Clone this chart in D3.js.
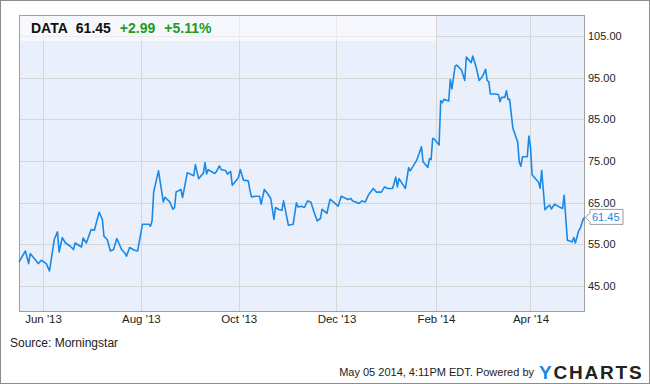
<!DOCTYPE html>
<html><head><meta charset="utf-8">
<script src="https://cdn.jsdelivr.net/npm/d3@7"></script>
<style>
html,body{margin:0;padding:0;background:#fff;}
svg{display:block;font-family:"Liberation Sans",Arial,sans-serif;}
</style></head>
<body>
<svg id="chart" width="650" height="384"></svg>
<script>
const dates = ["2013-05-17","2013-05-21","2013-05-23","2013-05-24","2013-05-26","2013-05-29","2013-05-31","2013-06-03","2013-06-05","2013-06-08",
"2013-06-10","2013-06-11","2013-06-13","2013-06-15","2013-06-18","2013-06-20","2013-06-21","2013-06-25","2013-06-26","2013-06-28",
"2013-07-01","2013-07-03","2013-07-06","2013-07-08","2013-07-09","2013-07-11","2013-07-13","2013-07-15","2013-07-17","2013-07-20",
"2013-07-22","2013-07-23","2013-07-25","2013-07-28","2013-07-30","2013-08-02","2013-08-06","2013-08-07","2013-08-08","2013-08-09",
"2013-08-12","2013-08-15","2013-08-16","2013-08-19","2013-08-21","2013-08-22","2013-08-23","2013-08-26","2013-08-27","2013-08-30",
"2013-09-03","2013-09-04","2013-09-06","2013-09-09","2013-09-10","2013-09-11","2013-09-12","2013-09-16","2013-09-17","2013-09-19",
"2013-09-20","2013-09-23","2013-09-24","2013-09-26","2013-09-27","2013-09-30","2013-10-01","2013-10-02","2013-10-04","2013-10-07",
"2013-10-08","2013-10-09","2013-10-12","2013-10-14","2013-10-15","2013-10-17","2013-10-19","2013-10-21","2013-10-23","2013-10-24",
"2013-10-26","2013-10-28","2013-10-29","2013-11-01","2013-11-04","2013-11-06","2013-11-07","2013-11-09","2013-11-11","2013-11-13",
"2013-11-15","2013-11-17","2013-11-19","2013-11-21","2013-11-22","2013-11-24","2013-11-25","2013-11-27","2013-11-29","2013-12-02",
"2013-12-04","2013-12-07","2013-12-08","2013-12-10","2013-12-11","2013-12-13","2013-12-15","2013-12-17","2013-12-19","2013-12-21",
"2013-12-24","2013-12-26","2013-12-29","2013-12-31","2014-01-02","2014-01-05","2014-01-07","2014-01-08","2014-01-09","2014-01-13",
"2014-01-15","2014-01-16","2014-01-20","2014-01-23","2014-01-24","2014-01-27","2014-01-28","2014-01-29","2014-01-30","2014-01-31",
"2014-02-03","2014-02-04","2014-02-05","2014-02-06","2014-02-09","2014-02-10","2014-02-11","2014-02-13","2014-02-14","2014-02-17",
"2014-02-19","2014-02-20","2014-02-23","2014-02-24","2014-02-26","2014-02-28","2014-03-02","2014-03-04","2014-03-05","2014-03-06",
"2014-03-07","2014-03-10","2014-03-12","2014-03-13","2014-03-14","2014-03-16","2014-03-17","2014-03-18","2014-03-19","2014-03-21",
"2014-03-24","2014-03-25","2014-03-26","2014-03-27","2014-03-30","2014-03-31","2014-04-01","2014-04-02","2014-04-06","2014-04-07",
"2014-04-08","2014-04-10","2014-04-12","2014-04-13","2014-04-14","2014-04-16","2014-04-19","2014-04-21","2014-04-22","2014-04-24",
"2014-04-26","2014-04-27","2014-04-28","2014-04-29","2014-05-01","2014-05-02","2014-05-04","2014-05-05"];
const values = [50.75,53.39,50.36,52.77,51.80,50.36,51.16,50.36,48.58,56.13,
57.96,53.15,56.61,55.31,54.52,53.73,55.31,54.35,56.51,55.31,
58.53,58.36,62.69,60.94,56.92,56.13,53.39,53.73,56.37,53.73,
52.91,52.12,54.21,53.56,53.39,59.81,59.81,59.33,60.65,67.57,
72.61,65.16,66.29,65.16,63.41,63.77,67.57,68.14,66.22,72.18,
71.46,74.10,70.74,72.06,74.58,71.87,72.90,71.99,72.37,73.81,
72.95,72.61,71.82,72.47,69.18,70.55,71.17,72.95,70.38,70.21,
67.98,66.37,66.53,66.53,64.61,68.14,67.18,65.98,60.94,63.82,
63.34,63.17,65.40,59.57,59.81,64.92,63.96,64.13,63.82,65.40,
65.16,62.76,60.60,61.18,63.41,62.76,62.38,65.81,65.16,64.13,
66.53,65.98,65.74,65.98,65.40,65.16,64.78,65.40,65.16,66.89,
68.38,67.50,67.50,68.77,68.38,68.38,71.10,68.77,70.74,68.38,
73.38,72.61,75.11,78.38,74.78,73.43,75.55,75.30,80.40,80.23,
78.79,89.43,88.95,89.77,89.36,94.53,92.25,97.77,97.96,96.81,
94.29,99.93,98.56,100.17,97.65,94.29,95.25,96.98,94.24,94.00,
91.04,91.04,90.92,89.19,90.25,90.25,91.84,89.72,89.77,82.87,
79.51,74.70,73.74,75.98,75.98,80.95,78.31,71.70,69.90,68.46,
72.71,63.27,64.13,64.37,63.46,64.61,63.96,63.58,66.77,55.96,
55.72,55.55,56.61,55.31,58.20,58.77,61.13,61.45];
const yTickValues = [45,55,65,75,85,95,105];
const xTickDates = ["2013-06-01","2013-08-01","2013-10-01","2013-12-01","2014-02-01","2014-04-01"];
const ticker = "DATA", lastPrice = "61.45", change = "+2.99", changePct = "+5.11%";

const parse = d3.timeParse("%Y-%m-%d");
const data = dates.map((d,i)=>({date:parse(d), value:values[i]}));
const L=19, R=585, T=15, B=312;
const svg = d3.select("#chart");
const x = d3.scaleTime().domain([parse("2013-05-17"), parse("2014-05-05")]).range([L,R]);
const y = d3.scaleLinear().domain([38.75,110]).range([B,T]);

// outer frame
svg.append("rect").attr("x",0.5).attr("y",0.5).attr("width",649).attr("height",383)
  .attr("fill","#fff").attr("stroke","#8c8c8c");
// plot bg
svg.append("rect").attr("x",L).attr("y",T).attr("width",R-L).attr("height",B-T).attr("fill","#eaf0fb");

// grid
const grid = svg.append("g");
yTickValues.forEach(v=>{
  const yy = Math.round(y(v))+0.5;
  grid.append("line").attr("x1",L).attr("x2",R).attr("y1",yy).attr("y2",yy).attr("stroke","#d6d6d6");
});
xTickDates.forEach(s=>{
  const xx = Math.round(x(parse(s)))+0.5;
  grid.append("line").attr("x1",xx).attr("x2",xx).attr("y1",T).attr("y2",B).attr("stroke","#d6d6d6");
});

// header band
svg.append("rect").attr("x",L).attr("y",T).attr("width",436-L).attr("height",26).attr("fill","#fff").attr("opacity",0.55);

// plot border
svg.append("rect").attr("x",L+0.5).attr("y",T+0.5).attr("width",R-L-1).attr("height",B-T-1)
  .attr("fill","none").attr("stroke","#a0a0a0");

// right axis
const yAxis = d3.axisRight(y).tickValues(yTickValues).tickFormat(d=>d.toFixed(2)).tickSize(0).tickPadding(3);
const ya = svg.append("g").attr("transform",`translate(${R},0)`).call(yAxis);
ya.select(".domain").remove();
ya.selectAll("text").attr("font-size",11).attr("fill","#222").attr("font-family","'Liberation Sans',Arial,sans-serif");

// bottom axis
const xAxis = d3.axisBottom(x).tickValues(xTickDates.map(parse)).tickFormat(d3.timeFormat("%b '%y")).tickSize(0).tickPadding(3);
const xa = svg.append("g").attr("transform",`translate(0,${B})`).call(xAxis);
xa.select(".domain").remove();
xa.selectAll("text").attr("font-size",11.5).attr("fill","#222").attr("font-family","'Liberation Sans',Arial,sans-serif");

// line
const line = d3.line().x(d=>x(d.date)).y(d=>y(d.value));
svg.append("path").datum(data).attr("d",line).attr("fill","none")
  .attr("stroke","#1a88e6").attr("stroke-width",1.6).attr("stroke-linejoin","round");

// last value label
const last = data[data.length-1];
const lx = x(last.date), ly = y(last.value);
svg.append("path")
  .attr("d",`M${lx+0.5},${ly} L${lx+5},${ly-4.5} L${lx+5},${ly-8} L${lx+38},${ly-8} L${lx+38},${ly+7} L${lx+5},${ly+7} L${lx+5},${ly+4.5} Z`)
  .attr("fill","#fff").attr("stroke","#9a9a9a");
svg.append("text").attr("x",lx+7).attr("y",ly+4).attr("font-size",11).attr("fill","#1a88e6").text(last.value.toFixed(2));

// header texts
const h = svg.append("text").attr("x",31).attr("y",33).attr("font-size",14).attr("font-weight","bold");
h.append("tspan").attr("fill","#111").text(ticker);
h.append("tspan").attr("fill","#111").attr("dx",8).text(lastPrice);
h.append("tspan").attr("fill","#1c9c1c").attr("dx",9).text(change);
h.append("tspan").attr("fill","#1c9c1c").attr("dx",9).text(changePct);

// footer
svg.append("text").attr("x",10).attr("y",347).attr("font-size",12).attr("fill","#222").text("Source: Morningstar");
svg.append("text").attr("x",534).attr("y",376).attr("text-anchor","end").attr("font-size",11).attr("fill","#222")
  .text("May 05 2014, 4:11PM EDT.  Powered by");
const logo = svg.append("text").attr("x",539).attr("y",379).attr("font-size",19).attr("font-weight","bold").attr("letter-spacing",1.8);
logo.append("tspan").attr("fill","#1a88e6").text("Y");
logo.append("tspan").attr("fill","#222").text("CHARTS");
</script>
</body></html>
